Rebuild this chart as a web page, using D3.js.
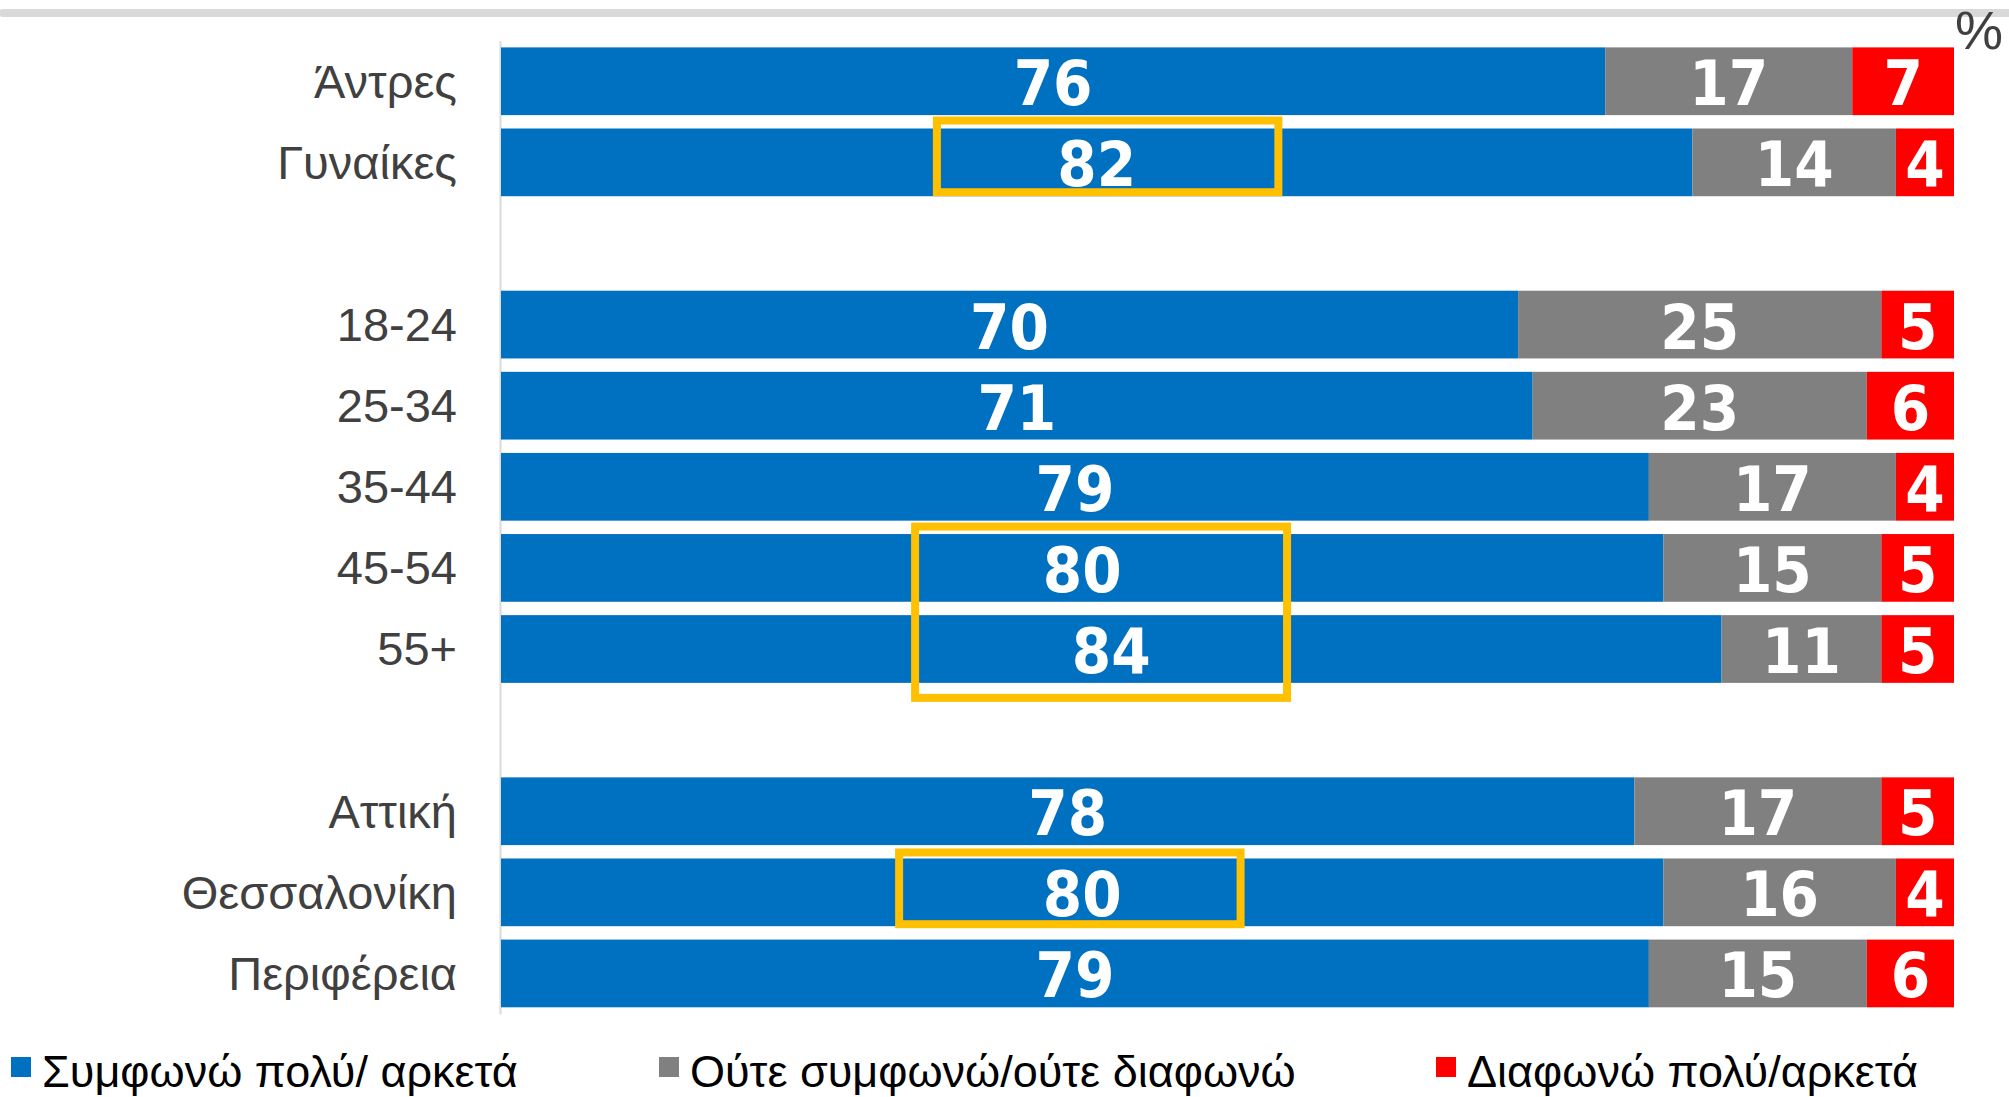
<!DOCTYPE html>
<html>
<head>
<meta charset="utf-8">
<script src="https://cdn.jsdelivr.net/npm/d3@7"></script>
<style>
  body { margin: 0; background: #fff; }
  svg { display: block; }
</style>
</head>
<body>
<svg class="d3"></svg>
<script>
// rows of the chart, null = empty spacer row between groups
const categories = ["Άντρες", "Γυναίκες", null, "18-24", "25-34", "35-44", "45-54", "55+", null, "Αττική", "Θεσσαλονίκη", "Περιφέρεια"]
const seriesNames = ["Συμφωνώ πολύ/ αρκετά", "Ούτε συμφωνώ/ούτε διαφωνώ", "Διαφωνώ πολύ/αρκετά"]
const agree = [76, 82, 70, 71, 79, 80, 84, 78, 80, 79]
const neutral = [17, 14, 25, 23, 17, 15, 11, 17, 16, 15]
const disagree = [7, 4, 5, 6, 4, 5, 5, 5, 4, 6]
const colors = ["#0070C0", "#808080", "#FF0000"]
// highlighted boxes: first/last row label, x range in %
const boxFirst = ["Γυναίκες", "45-54", "Θεσσαλονίκη"]
const boxLast = ["Γυναίκες", "55+", "Θεσσαλονίκη"]
const boxFrom = [30.0, 28.5, 27.4]
const boxTo = [53.5, 54.1, 50.9]

const width = 2009
const height = 1097
const margin = { top: 40.7, bottom: 83, left: 501, right: 55 }

const svg = d3.select("svg.d3")
    .attr("width", width)
    .attr("height", height)

const slots = categories.map((c, i) => i)
const labels = categories.filter(c => c !== null)

// build table for the stack
const table = labels.map((name, i) => ({
    name: name,
    slot: categories.indexOf(name),
    agree: agree[i],
    neutral: neutral[i],
    disagree: disagree[i]
}))
const keys = ["agree", "neutral", "disagree"]
const stacked = d3.stack().keys(keys)(table)

const scaleX = d3.scaleLinear()
    .domain([0, 100])
    .range([margin.left, width - margin.right])

const scaleY = d3.scaleBand()
    .domain(slots)
    .range([margin.top, height - margin.bottom])
    .paddingInner(0.165)
    .paddingOuter(0.0825)

// grey rule at the top
svg.append("line")
    .attr("x1", 3).attr("x2", width)
    .attr("y1", 13).attr("y2", 13)
    .style("stroke", "#D9D9D9")
    .style("stroke-width", 8)
    .style("stroke-linecap", "round")

svg.append("text")
    .attr("x", 1979)
    .attr("y", 49)
    .attr("text-anchor", "middle")
    .style("font-family", "'Liberation Sans', Arial, sans-serif")
    .style("font-size", "54px")
    .style("fill", "#404040")
    .text("%")

// category axis
const axisY = svg.append("g")
    .attr("transform", `translate(${margin.left - 1}, 0)`)
    .call(d3.axisLeft(scaleY)
        .tickSize(0)
        .tickPadding(43)
        .tickFormat(i => categories[i] === null ? "" : categories[i]))
axisY.select(".domain")
    .style("stroke", "#D9D9D9")
    .style("stroke-width", 2)
axisY.selectAll("text")
    .attr("dy", "0.35em")
    .style("font-family", "'Liberation Sans', Arial, sans-serif")
    .style("font-size", "47px")
    .style("fill", "#404040")

// bars
const groups = svg.append("g")
    .selectAll("g")
    .data(stacked)
    .join("g")
    .attr("fill", (d, i) => colors[i])

groups.selectAll("rect")
    .data(d => d)
    .join("rect")
    .attr("x", d => scaleX(d[0]))
    .attr("width", d => scaleX(d[1]) - scaleX(d[0]))
    .attr("y", d => scaleY(d.data.slot))
    .attr("height", scaleY.bandwidth())

// value labels
groups.selectAll("text")
    .data(d => d)
    .join("text")
    .attr("x", d => (scaleX(d[0]) + scaleX(d[1])) / 2)
    .attr("y", d => scaleY(d.data.slot) + scaleY.bandwidth() / 2 + 24)
    .attr("text-anchor", "middle")
    .style("font-family", "'DejaVu Sans Condensed', 'DejaVu Sans', sans-serif")
    .style("font-stretch", "condensed")
    .style("font-weight", "bold")
    .style("font-size", "63px")
    .style("fill", "#fff")
    .text(d => d[1] - d[0])

// yellow highlight boxes
const padTop = [8, 7.5, 6]
const padBottom = [-4, 15, -2]
svg.append("g")
    .selectAll("rect")
    .data(boxFirst)
    .join("rect")
    .attr("x", (d, i) => scaleX(boxFrom[i]))
    .attr("width", (d, i) => scaleX(boxTo[i]) - scaleX(boxFrom[i]))
    .attr("y", (d, i) => scaleY(categories.indexOf(d)) - padTop[i])
    .attr("height", (d, i) => scaleY(categories.indexOf(boxLast[i])) + scaleY.bandwidth() + padBottom[i]
        - scaleY(categories.indexOf(d)) + padTop[i])
    .style("fill", "none")
    .style("stroke", "#FFC000")
    .style("stroke-width", 8)

// legend
const legendX = [11, 659, 1436]
const legend = svg.append("g")
    .selectAll("g")
    .data(seriesNames)
    .join("g")
    .attr("transform", (d, i) => `translate(${legendX[i]}, 0)`)
legend.append("rect")
    .attr("y", 1057)
    .attr("width", 20)
    .attr("height", 20)
    .attr("fill", (d, i) => colors[i])
legend.append("text")
    .attr("x", 31)
    .attr("y", 1087)
    .style("font-family", "'Liberation Sans', Arial, sans-serif")
    .style("font-size", "45px")
    .style("fill", "#000")
    .text(d => d)
</script>
</body>
</html>
